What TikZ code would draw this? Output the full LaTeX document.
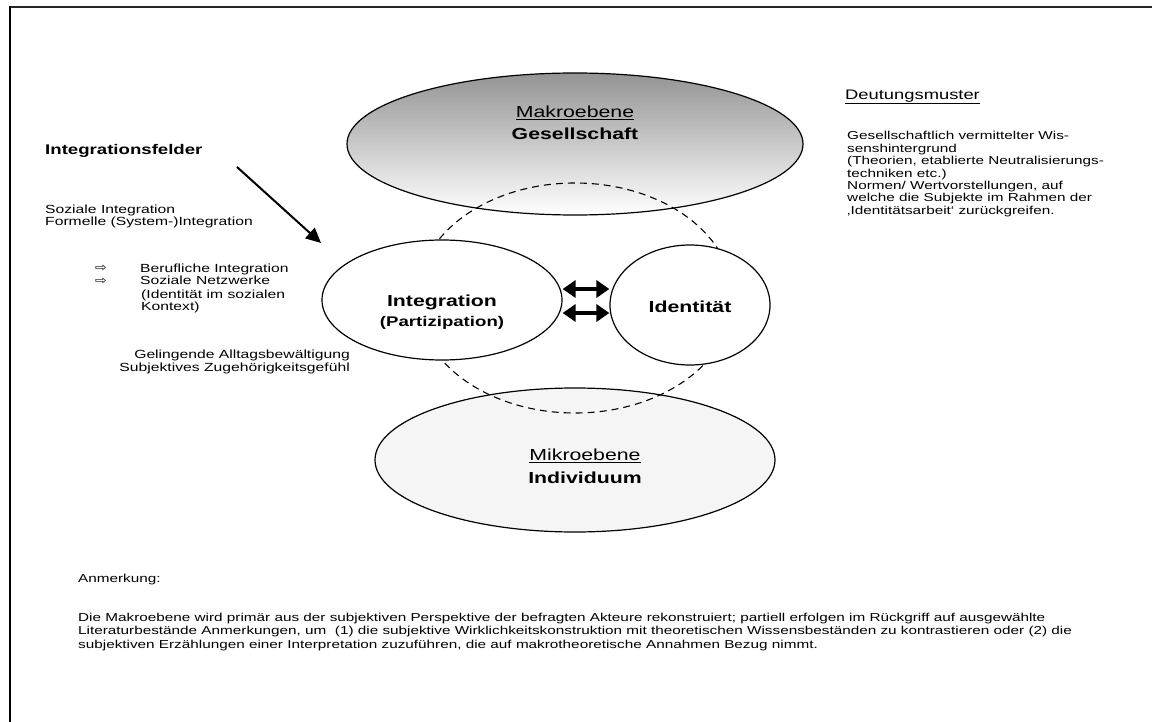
\documentclass[tikz,border=0pt]{standalone}
\usepackage{fontspec}
\setmainfont{Liberation Sans}[FakeStretch=1.33]
\newfontfamily\symfont{DejaVu Sans}[FakeStretch=1.2]
\usetikzlibrary{arrows.meta,shapes.geometric}
\begin{document}
\begin{tikzpicture}[x=1pt,y=-1pt,
  level/.style={ellipse,draw,line width=1.2pt,inner sep=0pt},
  core/.style={ellipse,draw,line width=1.2pt,fill=white,inner sep=0pt},
  body/.style={font=\fontsize{11.5}{13}\selectfont,inner sep=0pt,align=left},
  sidebody/.style={body,font=\fontsize{11.8}{13}\selectfont},
  bullet/.style={inner sep=0pt,anchor=base west,font=\symfont\fontsize{11.5}{13}\selectfont},
  lbl/.style={font=\fontsize{16}{19}\selectfont,inner sep=0pt},
  blbl/.style={font=\fontsize{16}{19}\selectfont\bfseries,inner sep=0pt},
  twoway/.style={line width=4.5pt,{Triangle[length=13pt,width=17pt]}-{Triangle[length=13pt,width=17pt]}},
  pointer/.style={line width=2pt,-{Triangle[length=15pt,width=14pt]}}
]
\useasboundingbox (0,0) rectangle (1152,722);
\fill[white] (0,0) rectangle (1152,722);

% page frame, top and left edge
\draw[line width=2pt,black!85] (10,7) -- (1152,7);
\draw[line width=2.5pt] (10,6) -- (10,722);

% levels
\node[level,minimum width=456pt,minimum height=142pt,top color=black!42,bottom color=white] (makro) at (575,144) {};
\node[level,minimum width=400pt,minimum height=144pt,fill=black!4] (mikro) at (575,460) {};
\node[ellipse,draw,dashed,line width=1.1pt,dash pattern=on 7pt off 5pt,minimum width=316pt,minimum height=230pt,inner sep=0pt] (ring) at (575,298) {};
\node[core,minimum width=240pt,minimum height=120pt] (integ) at (442,300) {};
\node[core,minimum width=160pt,minimum height=120pt] (ident) at (690,305) {};

% labels inside the ellipses
\node[lbl] (makroA) at (575,113) {\underline{Makroebene}};
\node[blbl] (makroB) at (575,134) {Gesellschaft};
\node[blbl] (integA) at (442,302) {Integration};
\node[font=\fontsize{14}{17}\selectfont\bfseries,inner sep=0pt] (integB) at (442,323) {(Partizipation)};
\node[blbl] (identA) at (690,307) {Identität};
\node[lbl] (mikroA) at (585,456) {\underline{Mikroebene}};
\node[blbl] (mikroB) at (585,478) {Individuum};

% mutual relation between integration and identity
\coordinate (hu) at (0,289);
\coordinate (hl) at (0,313);
\draw[twoway] (integ.east |- hu) -- (ident.west |- hu);
\draw[twoway] (integ.east |- hl) -- (ident.west |- hl);

% fields of integration (multi-line nodes sit on the baseline of their last line)
\node[font=\fontsize{14}{16}\selectfont\bfseries,inner sep=0pt,anchor=west] (felder) at (45,151) {Integrationsfelder};
\node[sidebody,anchor=base west] (felderA) at (45,226) {Soziale Integration\\Formelle (System-)Integration};
\node[sidebody,anchor=base west] (felderB) at (140,311) {Berufliche Integration\\Soziale Netzwerke\\\hspace{1pt}(Identität im sozialen\\\hspace{1pt}Kontext)};
\node[bullet] (bulA) at (95,272) {⇨};
\node[bullet] (bulB) at (95,285) {⇨};
\node[sidebody,anchor=base east,align=right] (alltag) at (350,371) {Gelingende Alltagsbewältigung\\Subjektives Zugehörigkeitsgefühl};
\coordinate (pstart) at (237,167);
\coordinate (pend) at (321,243);
\draw[pointer] (pstart) -- (pend);

% interpretive patterns
\node[font=\fontsize{13.8}{16}\selectfont,inner sep=0pt,anchor=west] (deut) at (845,97) {\underline{Deutungsmuster}};
\node[body,anchor=base west,font=\fontsize{11.5}{12.4}\selectfont] (deutA) at (847,214.4) {Gesellschaftlich vermittelter Wis-\\senshintergrund\\(Theorien, etablierte Neutralisierungs-\\techniken etc.)\\Normen/ Wertvorstellungen, auf\\welche die Subjekte im Rahmen der\\‚Identitätsarbeit‘ zurückgreifen.};

% note
\node[body,anchor=base west] (anm) at (78,582) {Anmerkung:};
\node[body,anchor=base west,font=\fontsize{11.5}{13.5}\selectfont] (anmtext) at (78,648) {Die Makroebene wird primär aus der subjektiven Perspektive der befragten Akteure rekonstruiert; partiell erfolgen im Rückgriff auf ausgewählte\\Literaturbestände Anmerkungen, um~~(1) die subjektive Wirklichkeitskonstruktion mit theoretischen Wissensbeständen zu kontrastieren oder (2) die\\subjektiven Erzählungen einer Interpretation zuzuführen, die auf makrotheoretische Annahmen Bezug nimmt.};
\end{tikzpicture}
\end{document}
